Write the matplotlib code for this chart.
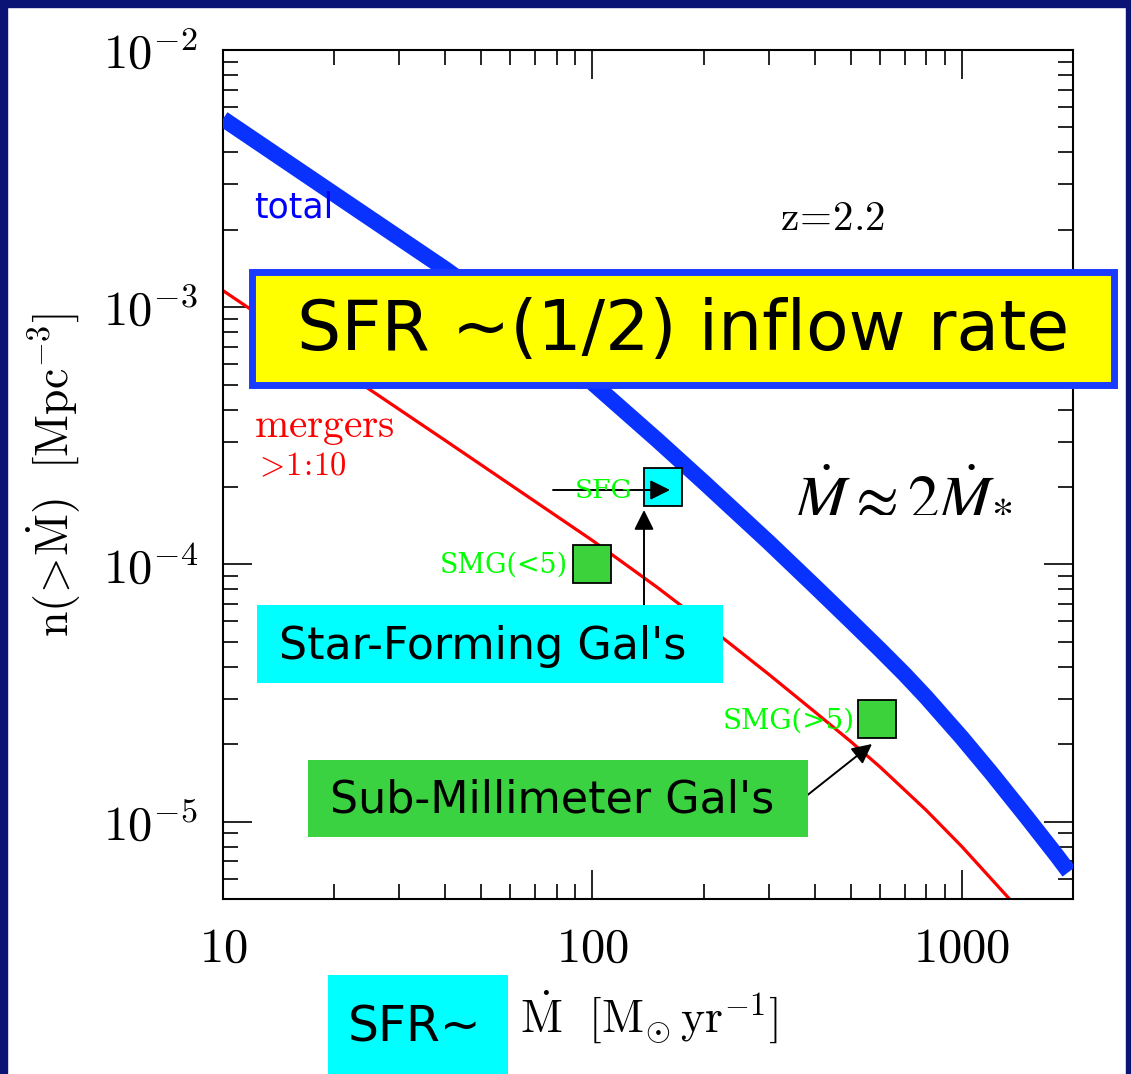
import numpy as np
import matplotlib.pyplot as plt
from matplotlib.patches import Rectangle
from matplotlib.ticker import FixedLocator, LogLocator, NullFormatter, FuncFormatter

plt.rcParams['mathtext.fontset'] = 'cm'

W, H = 1131, 1074

# cumulative number density curves
total_x = [10, 20, 40, 60, 100, 150, 200, 300, 400, 500, 600, 700, 800, 1000,
           1200, 1500, 1800, 1950]
total_n = [5.40e-3, 2.754e-3, 1.406e-3, 9.25e-4, 5.08e-4, 3.04e-4, 2.09e-4, 1.22e-4,
           8.22e-5, 6.03e-5, 4.67e-5, 3.74e-5, 3.05e-5, 2.12e-5, 1.549e-5, 1.038e-5,
           7.43e-6, 6.38e-6]
merger_x = [10, 20, 40, 60, 100, 150, 200, 300, 400, 500, 600, 800, 1000, 1350]
merger_n = [1.16e-3, 5.93e-4, 3.03e-4, 2.04e-4, 1.239e-4, 8.13e-5, 5.93e-5, 3.74e-5,
            2.67e-5, 2.05e-5, 1.633e-5, 1.109e-5, 8.0e-6, 4.98e-6]

# observed populations
obs_names = ['SFG', 'SMG(<5)', 'SMG(>5)']
obs_x = [155, 100, 590]
obs_n = [2e-4, 1e-4, 2.5e-5]
obs_colors = ['#00ffff', '#3cd23c', '#3cd23c']

xticks = [10, 100, 1000]
yticks = [1e-5, 1e-4, 1e-3, 1e-2]

navy = '#0b1475'
blue = '#0a32ff'


def fx(px):
    return px / W


def fy(py):
    return 1 - py / H


fig = plt.figure(figsize=(W / 100, H / 100), dpi=100)
fig.patch.set_facecolor('white')
ax = fig.add_axes([fx(223), fy(899), (1073 - 223) / W, (899 - 50) / H])
renderer = fig.canvas.get_renderer()

ax.plot(total_x, total_n, color=blue, lw=11.5, solid_capstyle='butt',
        solid_joinstyle='round', zorder=3)
ax.plot(merger_x, merger_n, color='#ff0000', lw=2.3, zorder=2)
for x, y, c in zip(obs_x, obs_n, obs_colors):
    ax.plot([x], [y], marker='s', ms=27, mfc=c, mec='black', mew=1.3, ls='none', zorder=4)

ax.set_xscale('log')
ax.set_yscale('log')
ax.set_xlim(10, 2000)
ax.set_ylim(5e-6, 1e-2)
ax.xaxis.set_major_locator(FixedLocator(xticks))
ax.xaxis.set_major_formatter(FuncFormatter(lambda v, p: r'$%d$' % round(v)))
ax.xaxis.set_minor_locator(LogLocator(base=10, subs=np.arange(2, 10), numticks=50))
ax.xaxis.set_minor_formatter(NullFormatter())
ax.yaxis.set_major_locator(FixedLocator(yticks))
ax.yaxis.set_major_formatter(FuncFormatter(lambda v, p: r'$10^{%d}$' % round(np.log10(v))))
ax.yaxis.set_minor_locator(LogLocator(base=10, subs=np.arange(2, 10), numticks=50))
ax.yaxis.set_minor_formatter(NullFormatter())
ax.tick_params(which='both', direction='in', top=True, right=True, width=1.2, colors='black')
ax.tick_params(which='major', length=21, pad=18, labelsize=35)
ax.tick_params(which='minor', length=10.5)
for s in ax.spines.values():
    s.set_linewidth(1.5)

fig.text(fx(54), fy(475), r'$\mathrm{n(\!>\!\dot{M})\ \ [Mpc^{-3}]}$', rotation=90,
         ha='center', va='center', fontsize=33)
fig.text(fx(520), fy(1017), r'$\dot{\mathrm{M}}\ \ [\mathrm{M}_{\odot}\,\mathrm{yr}^{-1}]$',
         ha='left', va='center', fontsize=33)


def fit(t, width_px):
    w = t.get_window_extent(renderer).width
    t.set_fontsize(t.get_fontsize() * width_px / w)


def label(px, py, s, width, ha='left', va='baseline', **kw):
    t = fig.text(fx(px), fy(py), s, ha=ha, va=va, zorder=12, **kw)
    fit(t, width)
    return t


def box(x0, y0, x1, y1, face, edge='none', lw=0):
    ax.add_patch(Rectangle((fx(x0), fy(y1)), fx(x1) - fx(x0), fy(y0) - fy(y1),
                           transform=fig.transFigure, facecolor=face, edgecolor=edge,
                           lw=lw, clip_on=False, zorder=10))


# in-plot labels
label(254, 218, 'total', 79, color='#0000ff', family='DejaVu Sans', fontsize=20)
label(254, 437, r'$\mathrm{mergers}$', 141, color='#ff0000', fontsize=28)
label(254, 475, r'$\mathrm{>\!1\!:\!10}$', 92, color='#ff0000', fontsize=28)
label(780, 230, r'$\mathrm{z}\!=\!\mathrm{2.2}$', 105, color='black', fontsize=28)
t = fig.text(fx(793), fy(512), r'$\dot{M} \approx 2\dot{M}_{*}$', ha='left', va='baseline',
             fontsize=42, math_fontfamily='stix')
fit(t, 220)

green_txt = '#00ff00'
label(632, 490, obs_names[0], 57, ha='right', va='center', color=green_txt,
      family='DejaVu Serif', fontsize=20)
label(568, 565, obs_names[1], 128, ha='right', va='center', color=green_txt,
      family='DejaVu Serif', fontsize=20)
label(855, 721, obs_names[2], 132, ha='right', va='center', color=green_txt,
      family='DejaVu Serif', fontsize=20)

# arrows
arw = dict(arrowstyle='-|>', color='black', lw=1.4, mutation_scale=30, shrinkA=0, shrinkB=0)
ax.annotate('', xy=(fx(670), fy(490)), xytext=(fx(553), fy(490)),
            xycoords='figure fraction', arrowprops=arw, zorder=5)
ax.annotate('', xy=(fx(644), fy(510)), xytext=(fx(644), fy(606)),
            xycoords='figure fraction', arrowprops=arw, zorder=5)
ax.annotate('', xy=(fx(872), fy(744)), xytext=(fx(805), fy(797)),
            xycoords='figure fraction', arrowprops=arw, zorder=5)

# highlight boxes
box(251.5, 271.5, 1113.5, 384.5, '#ffff00', edge='#1a3cff', lw=5)
label(683, 330, 'SFR ~(1/2) inflow rate', 773, ha='center', va='center',
      family='DejaVu Sans', fontsize=50)
box(257, 605, 723, 683, '#00ffff')
label(483, 646, "Star-Forming Gal's", 407, ha='center', va='center',
      family='DejaVu Sans', fontsize=30)
box(308, 760, 808, 837, '#3ad240')
label(552, 800, "Sub-Millimeter Gal's", 444, ha='center', va='center',
      family='DejaVu Sans', fontsize=30)
box(328, 975, 508, 1074, '#00ffff')
label(415, 1028, 'SFR~', 134, ha='center', va='center', family='DejaVu Sans', fontsize=30)

# slide frame
for r in [(0, 0, 7, H), (0, 0, W, 7), (1126, 0, W, H)]:
    fig.add_artist(Rectangle((fx(r[0]), fy(r[3])), fx(r[2]) - fx(r[0]), fy(r[1]) - fy(r[3]),
                             transform=fig.transFigure, color=navy, zorder=20))

fig.savefig('out.png', dpi=100)
